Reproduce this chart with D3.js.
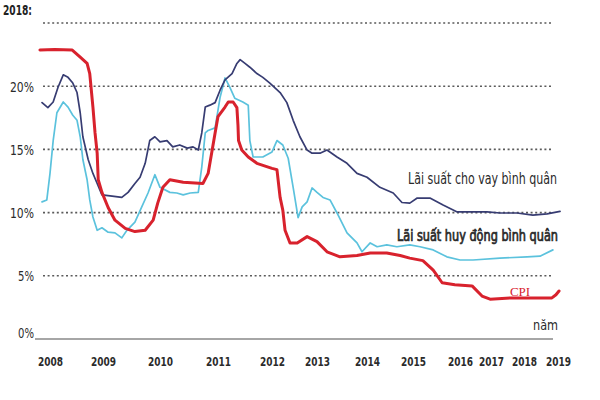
<!DOCTYPE html>
<html>
<head>
<meta charset="utf-8">
<script src="https://cdn.jsdelivr.net/npm/d3@7/dist/d3.min.js"></script>
<style>
  html, body { margin: 0; padding: 0; background: #fff; }
  svg { display: block; }
</style>
</head>
<body>
<svg id="chart" width="600" height="400"></svg>
<script>
// ---- Data ----
const years = [2008, 2009, 2010, 2011, 2012, 2013, 2014, 2015, 2016, 2017, 2018, 2019];
const yTicks = [0, 5, 10, 15, 20, 25];
const titleText = "2018:";
const seriesNames = ["Lãi suất cho vay bình quân", "Lãi suất huy động bình quân", "CPI"];
const unitLabel = "năm";

// Lãi suất cho vay bình quân (lending rate) [year, %]
const lendingRate = [
  [2007.85,18.7],[2007.96,18.3],[2008.06,18.75],[2008.15,19.9],[2008.25,20.9],[2008.34,20.7],
  [2008.43,20.25],[2008.51,19.5],[2008.57,17.9],[2008.62,16.0],[2008.72,14.2],[2008.81,13.1],
  [2008.89,12.3],[2008.98,11.4],[2009.16,11.3],[2009.33,11.2],[2009.44,11.6],[2009.56,12.3],
  [2009.65,12.8],[2009.74,13.9],[2009.82,15.7],[2009.91,16.0],[2010.00,15.6],[2010.12,15.7],
  [2010.22,15.2],[2010.34,15.35],[2010.47,15.1],[2010.57,15.2],[2010.66,14.95],[2010.72,16.3],
  [2010.78,18.35],[2010.86,18.5],[2010.95,18.7],[2011.04,19.7],[2011.13,20.5],[2011.26,21.0],
  [2011.35,21.8],[2011.41,22.1],[2011.50,21.8],[2011.59,21.5],[2011.72,21.0],[2011.83,20.7],
  [2011.96,20.25],[2012.18,19.5],[2012.33,18.7],[2012.47,17.3],[2012.62,16.0],[2012.78,14.95],
  [2012.89,14.7],[2013.06,14.7],[2013.20,14.95],[2013.40,14.4],[2013.60,13.9],[2013.80,13.1],
  [2014.00,12.8],[2014.28,12.0],[2014.57,11.55],[2014.76,10.8],[2014.93,10.75],[2015.09,11.15],
  [2015.36,11.15],[2015.64,10.6],[2015.94,10.05],[2016.42,10.05],[2016.87,10.05],[2017.27,9.97],
  [2017.79,9.97],[2018.26,9.8],[2018.68,9.9],[2019.06,10.1]
];

// Lãi suất huy động bình quân (deposit rate) [year, %]
const depositRate = [
  [2007.85,10.85],[2007.94,11.0],[2008.00,13.1],[2008.06,15.7],[2008.13,17.9],[2008.25,18.75],
  [2008.34,18.35],[2008.43,17.7],[2008.51,17.3],[2008.57,16.0],[2008.62,14.2],[2008.70,12.6],
  [2008.75,11.0],[2008.81,9.65],[2008.89,8.6],[2008.98,8.8],[2009.09,8.45],[2009.21,8.4],
  [2009.33,8.0],[2009.42,8.6],[2009.56,9.25],[2009.68,10.45],[2009.79,11.55],[2009.91,13.0],
  [2010.00,12.0],[2010.17,11.6],[2010.29,11.55],[2010.40,11.4],[2010.52,11.55],[2010.66,11.6],
  [2010.72,13.6],[2010.78,16.3],[2010.83,16.5],[2010.95,16.7],[2011.04,19.15],[2011.13,20.65],
  [2011.22,19.9],[2011.31,19.05],[2011.46,18.75],[2011.56,18.5],[2011.59,15.7],[2011.65,14.4],
  [2011.83,14.4],[2012.00,14.8],[2012.11,15.7],[2012.24,15.35],[2012.36,14.3],[2012.47,12.0],
  [2012.58,9.6],[2012.67,10.45],[2012.78,10.85],[2012.89,11.95],[2013.00,11.6],[2013.12,11.2],
  [2013.26,11.0],[2013.40,9.97],[2013.60,8.4],[2013.80,7.6],[2013.90,6.9],[2014.07,7.6],
  [2014.22,7.3],[2014.43,7.45],[2014.65,7.3],[2014.93,7.45],[2015.15,7.3],[2015.43,7.05],
  [2015.72,6.5],[2016.00,6.25],[2016.42,6.25],[2017.27,6.4],[2018.09,6.5],[2018.47,6.55],
  [2018.85,7.05]
];

// CPI [year, %]
const cpi = [
  [2007.81,22.86],[2008.09,22.9],[2008.42,22.86],[2008.57,22.3],[2008.70,21.8],[2008.75,21.0],
  [2008.81,18.35],[2008.85,16.3],[2008.89,14.7],[2008.91,12.6],[2008.98,11.6],[2009.09,10.4],
  [2009.21,9.4],[2009.39,8.75],[2009.56,8.5],[2009.74,8.6],[2009.88,9.4],[2009.96,10.75],
  [2010.05,12.0],[2010.17,12.6],[2010.40,12.4],[2010.74,12.3],[2010.83,13.1],[2010.95,16.3],
  [2011.00,17.6],[2011.13,18.35],[2011.19,18.75],[2011.28,18.75],[2011.35,18.3],[2011.37,16.9],
  [2011.38,15.7],[2011.44,14.95],[2011.56,14.4],[2011.72,13.9],[2012.00,13.5],[2012.11,13.4],
  [2012.18,11.2],[2012.24,10.2],[2012.29,8.6],[2012.40,7.6],[2012.56,7.6],[2012.78,8.1],
  [2013.00,7.7],[2013.20,6.9],[2013.46,6.5],[2013.80,6.6],[2014.07,6.8],[2014.43,6.8],
  [2014.72,6.6],[2014.93,6.4],[2015.21,6.2],[2015.43,5.45],[2015.62,4.45],[2015.89,4.3],
  [2016.39,4.2],[2016.71,3.4],[2016.97,3.15],[2017.58,3.25],[2018.18,3.25],[2018.82,3.25],
  [2018.94,3.5],[2019.03,3.8]
];

// ---- Layout ----
const svg = d3.select("#chart");
const yTop = 23, yBottom = 339;
const gridLeft = 43, gridRight = 553;
const baseLeft = 35;

// Non-uniform year axis (labels are unevenly spaced in the original)
const yearPx = [50, 103, 160, 218, 272, 317, 367, 413, 460, 491, 524, 558];
const x = d3.scaleLinear().domain(years).range(yearPx);
const y = d3.scaleLinear().domain([0, 25]).range([yBottom, yTop]);

const textColor = "#2b2b2b";
const fontLbl = '"DejaVu Sans Condensed", "Liberation Sans Narrow", Roboto, sans-serif';

// Gridlines (dotted) for non-zero ticks
svg.append("g").selectAll("line")
  .data(yTicks.filter(d => d > 0))
  .join("line")
  .attr("x1", gridLeft).attr("x2", gridRight)
  .attr("y1", d => y(d)).attr("y2", d => y(d))
  .attr("stroke", "#5a5a5a")
  .attr("stroke-width", 1.6)
  .attr("stroke-dasharray", "2,2.6");

// Baseline (0%)
svg.append("line")
  .attr("x1", baseLeft).attr("x2", gridRight)
  .attr("y1", y(0)).attr("y2", y(0))
  .attr("stroke", "#888").attr("stroke-width", 1.6);

// Clip for the partly hidden top label
svg.append("defs").append("clipPath").attr("id", "clipTop")
  .append("rect").attr("x", 0).attr("y", y(25) + 1).attr("width", 45).attr("height", 400);

// Y axis labels
const yAxis = d3.axisLeft(y).tickValues(yTicks).tickSize(0).tickPadding(0).tickFormat(d => d + "%");
const gy = svg.append("g").attr("transform", "translate(34,0)").call(yAxis);
gy.select(".domain").remove();
gy.selectAll("text")
  .attr("font-family", fontLbl).attr("fill", textColor)
  .attr("font-size", d => d === 25 ? 10 : 14)
  .attr("textLength", d => (d === 25 ? 22 : d < 10 ? 16 : 24))
  .attr("lengthAdjust", "spacingAndGlyphs")
  .attr("dy", d => d === 0 ? "-0.1em" : d === 25 ? "0.7em" : "0.35em")
  .attr("clip-path", d => d === 25 ? "url(#clipTop)" : null)
  .attr("opacity", d => d === 25 ? 0.5 : 1);

// X axis labels
const xAxis = d3.axisBottom(x).tickValues(years).tickSize(0).tickPadding(0).tickFormat(d3.format("d"));
const gx = svg.append("g").attr("transform", "translate(0,357)").call(xAxis);
gx.select(".domain").remove();
gx.selectAll("text")
  .attr("font-family", fontLbl).attr("font-size", 13).attr("fill", textColor)
  .attr("font-weight", "bold")
  .attr("textLength", 25).attr("lengthAdjust", "spacingAndGlyphs");

// Title "2018:"
svg.append("text")
  .attr("x", 3).attr("y", 15)
  .attr("font-family", fontLbl).attr("font-size", 14).attr("font-weight", "bold")
  .attr("fill", "#222")
  .attr("textLength", 29).attr("lengthAdjust", "spacingAndGlyphs")
  .text(titleText);

// Lines
const line = d3.line().x(d => x(d[0])).y(d => y(d[1]));
const series = [
  { data: depositRate, color: "#5bc2dd", width: 1.7 },
  { data: lendingRate, color: "#373c72", width: 1.7 },
  { data: cpi, color: "#d8222d", width: 3 }
];
svg.append("g").selectAll("path")
  .data(series)
  .join("path")
  .attr("d", d => line(d.data))
  .attr("fill", "none")
  .attr("stroke", d => d.color)
  .attr("stroke-width", d => d.width)
  .attr("stroke-linejoin", "round")
  .attr("stroke-linecap", "round");

// Series labels
svg.append("text")
  .attr("x", 557).attr("y", 184).attr("text-anchor", "end")
  .attr("font-family", fontLbl).attr("font-size", 15).attr("fill", "#2a2a2a")
  .attr("textLength", 149).attr("lengthAdjust", "spacingAndGlyphs")
  .text(seriesNames[0]);
svg.append("text")
  .attr("x", 558).attr("y", 241).attr("text-anchor", "end")
  .attr("font-family", fontLbl).attr("font-size", 15).attr("fill", "#2a2a2a")
  .attr("stroke", "#2a2a2a").attr("stroke-width", 0.7)
  .attr("textLength", 161).attr("lengthAdjust", "spacingAndGlyphs")
  .text(seriesNames[1]);
svg.append("text")
  .attr("x", 520).attr("y", 296).attr("text-anchor", "middle")
  .attr("font-family", '"Liberation Serif", "DejaVu Serif", serif').attr("font-size", 13)
  .attr("fill", "#d8222d")
  .text(seriesNames[2]);

// Unit label
svg.append("text")
  .attr("x", 558).attr("y", 330).attr("text-anchor", "end")
  .attr("font-family", fontLbl).attr("font-size", 14).attr("fill", textColor)
  .attr("textLength", 25).attr("lengthAdjust", "spacingAndGlyphs")
  .text(unitLabel);
</script>
</body>
</html>
